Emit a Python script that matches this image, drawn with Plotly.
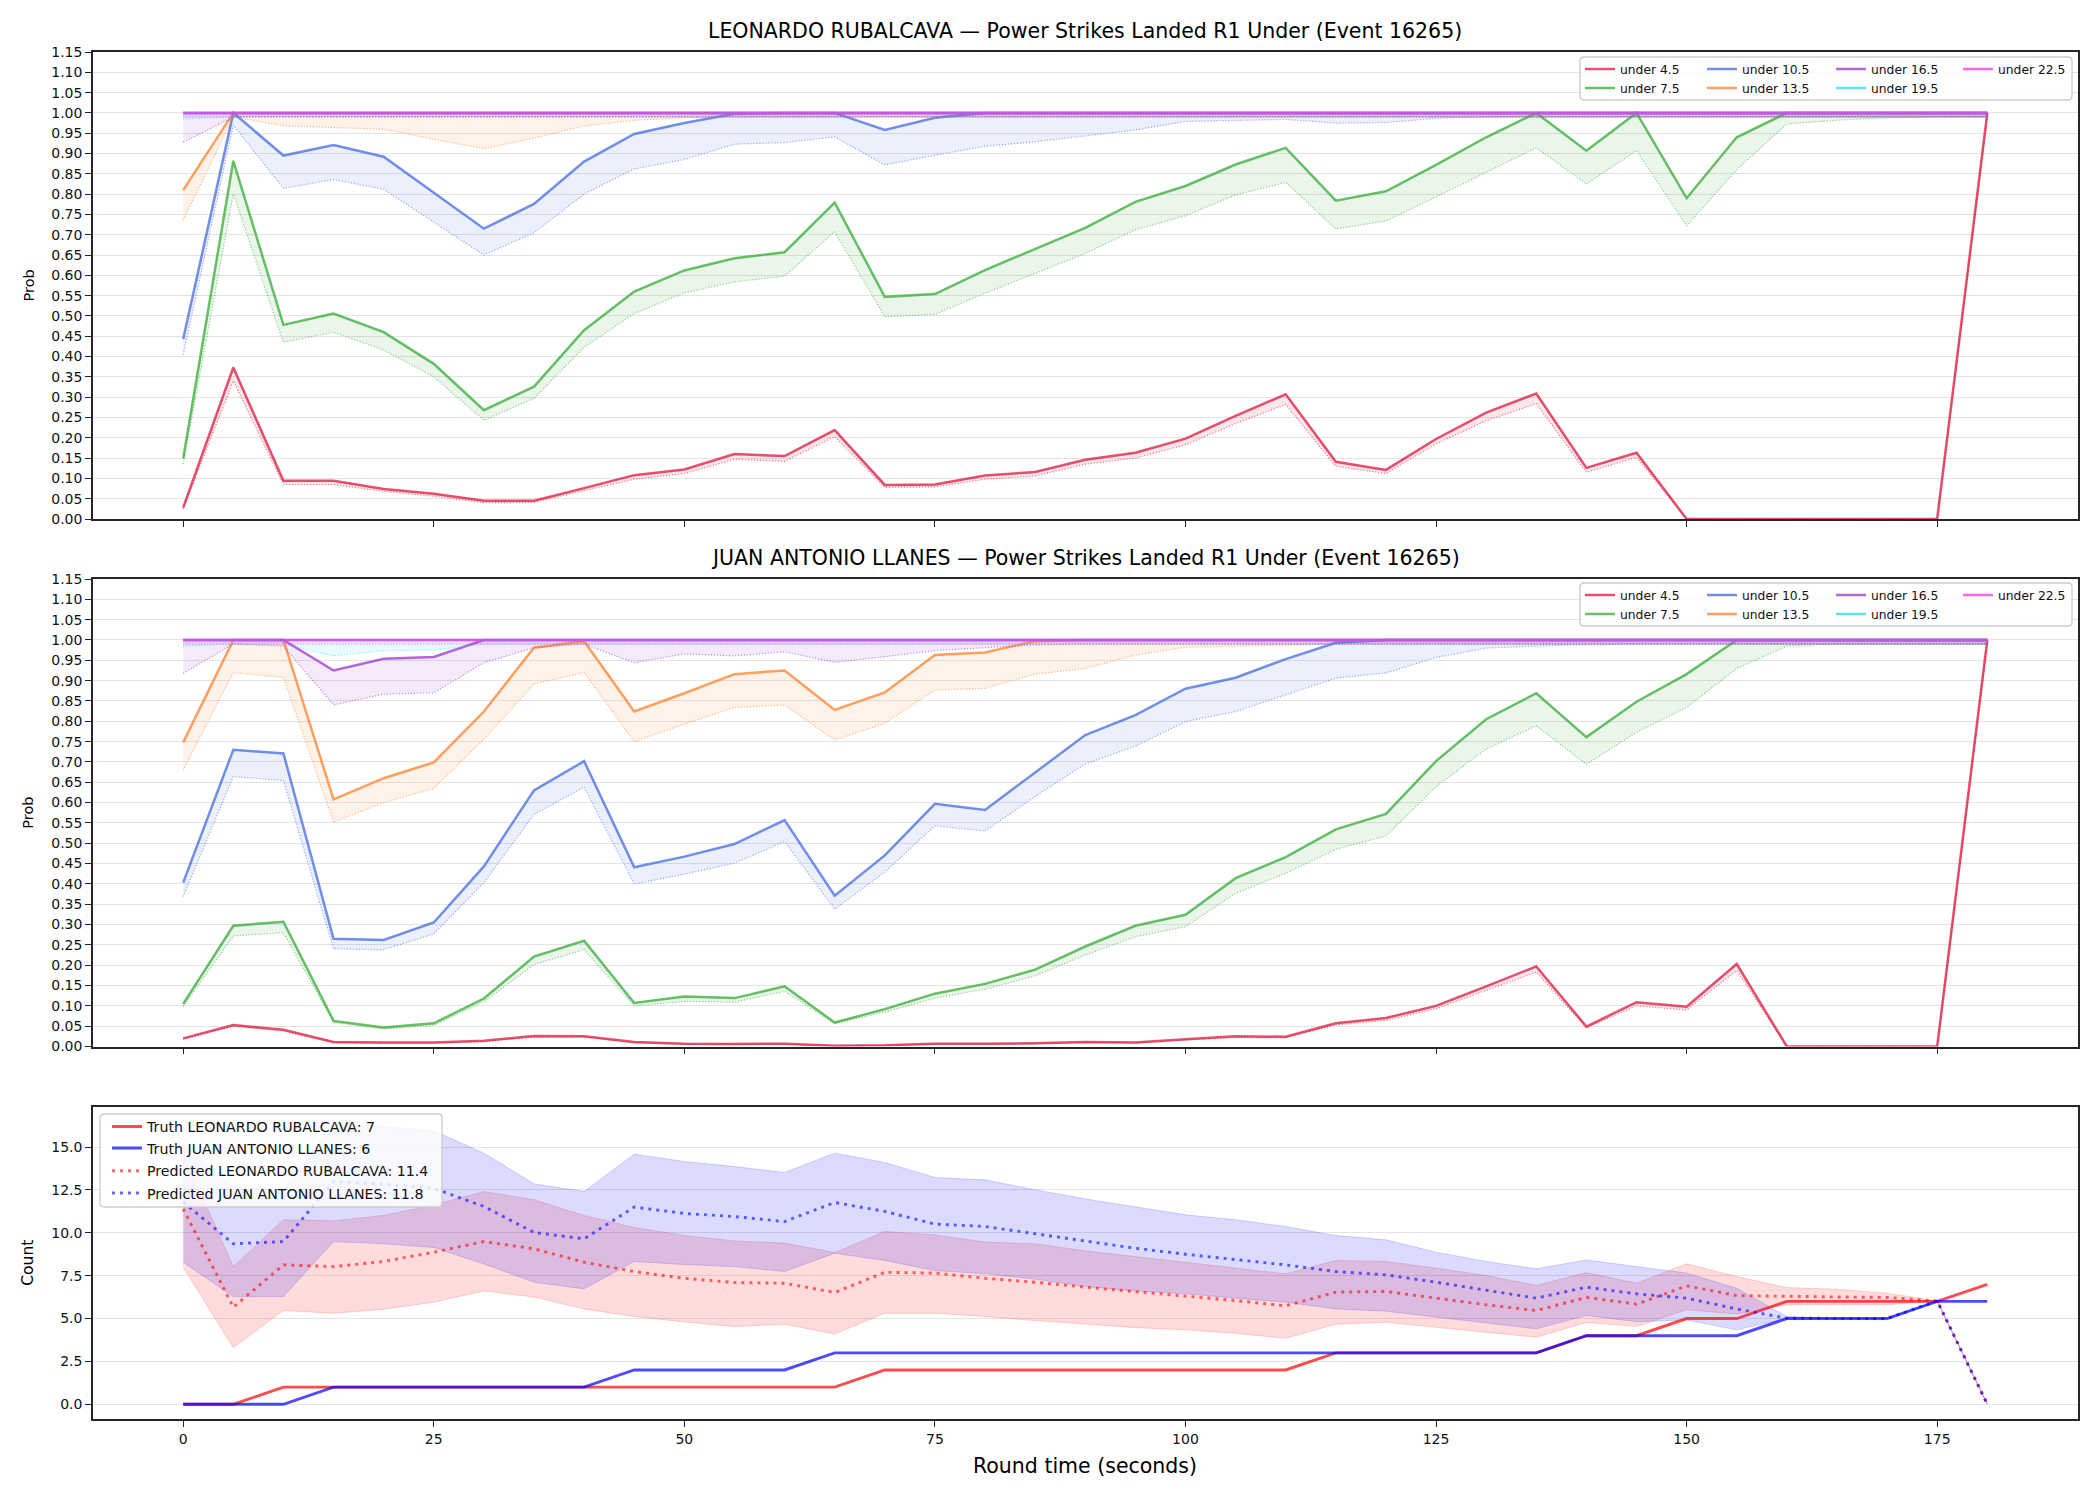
import plotly.graph_objects as go

# ---------------- data ----------------
TIME_S = [0, 5, 10, 15, 20, 25, 30, 35, 40, 45, 50, 55, 60, 65, 70, 75, 80, 85, 90,
          95, 100, 105, 110, 115, 120, 125, 130, 135, 140, 145, 150, 155, 160, 165,
          170, 175, 180]

THRESHOLDS = ["under 4.5", "under 7.5", "under 10.5", "under 13.5",
              "under 16.5", "under 19.5", "under 22.5"]

FIGHTERS = ["LEONARDO RUBALCAVA", "JUAN ANTONIO LLANES"]
EVENT_ID = 16265

X_TICKS = [0, 25, 50, 75, 100, 125, 150, 175]
PROB_TICKS = [0.00, 0.05, 0.10, 0.15, 0.20, 0.25, 0.30, 0.35, 0.40, 0.45, 0.50, 0.55,
              0.60, 0.65, 0.70, 0.75, 0.80, 0.85, 0.90, 0.95, 1.00, 1.05, 1.10, 1.15]
COUNT_TICKS = [0.0, 2.5, 5.0, 7.5, 10.0, 12.5, 15.0]

# LEONARDO RUBALCAVA - probability (solid) and lower curve (dotted)
leo_u45 = [0.028, 0.373, 0.094, 0.094, 0.074, 0.062, 0.045, 0.045, 0.076, 0.108, 0.122, 0.160,
           0.155, 0.219, 0.084, 0.085, 0.107, 0.116, 0.146, 0.163, 0.198, 0.254, 0.307, 0.141,
           0.121, 0.197, 0.262, 0.309, 0.126, 0.163, 0.0, 0.0, 0.0, 0.0, 0.0, 0.0, 1.0]
leo_u45_low = [0.025, 0.340, 0.085, 0.085, 0.068, 0.056, 0.040, 0.041, 0.070, 0.098, 0.112, 0.147,
               0.142, 0.203, 0.078, 0.079, 0.098, 0.106, 0.135, 0.150, 0.183, 0.235, 0.282, 0.130,
               0.112, 0.185, 0.242, 0.284, 0.115, 0.152, 0.0, 0.0, 0.0, 0.0, 0.0, 0.0, 0.990]
leo_u75 = [0.149, 0.882, 0.478, 0.506, 0.460, 0.382, 0.268, 0.326, 0.465, 0.560, 0.612, 0.642,
           0.657, 0.779, 0.547, 0.554, 0.613, 0.666, 0.717, 0.781, 0.820, 0.873, 0.914, 0.784,
           0.807, 0.872, 0.940, 1.0, 0.907, 1.0, 0.790, 0.940, 1.0, 1.0, 1.0, 1.0, 1.0]
leo_u75_low = [0.135, 0.800, 0.435, 0.460, 0.416, 0.350, 0.243, 0.297, 0.423, 0.506, 0.557, 0.584,
               0.598, 0.707, 0.498, 0.504, 0.556, 0.605, 0.654, 0.712, 0.747, 0.798, 0.829, 0.714,
               0.734, 0.793, 0.853, 0.914, 0.825, 0.907, 0.722, 0.860, 0.973, 0.982, 0.988, 0.990, 0.990]
leo_u105 = [0.443, 1.0, 0.895, 0.921, 0.892, 0.804, 0.715, 0.776, 0.880, 0.948, 0.975, 0.998,
            1.0, 1.0, 0.958, 0.988, 1.0, 1.0, 1.0, 1.0, 1.0, 1.0, 1.0, 1.0,
            1.0, 1.0, 1.0, 1.0, 1.0, 1.0, 1.0, 1.0, 1.0, 1.0, 1.0, 1.0, 1.0]
leo_u105_low = [0.405, 0.970, 0.814, 0.836, 0.812, 0.732, 0.650, 0.705, 0.800, 0.862, 0.885, 0.923,
                0.927, 0.941, 0.872, 0.896, 0.918, 0.929, 0.944, 0.958, 0.979, 0.981, 0.984, 0.975,
                0.976, 0.987, 0.990, 0.990, 0.990, 0.990, 0.990, 0.990, 0.990, 0.990, 0.990, 0.990, 0.990]
leo_u135 = [0.810, 1.0, 1.0, 1.0, 1.0, 1.0, 1.0, 1.0, 1.0, 1.0, 1.0, 1.0,
            1.0, 1.0, 1.0, 1.0, 1.0, 1.0, 1.0, 1.0, 1.0, 1.0, 1.0, 1.0,
            1.0, 1.0, 1.0, 1.0, 1.0, 1.0, 1.0, 1.0, 1.0, 1.0, 1.0, 1.0, 1.0]
leo_u135_low = [0.736, 0.990, 0.968, 0.964, 0.960, 0.935, 0.912, 0.938, 0.968, 0.982, 0.988, 0.990,
                0.990, 0.990, 0.990, 0.990, 0.990, 0.990, 0.990, 0.990, 0.990, 0.990, 0.990, 0.990,
                0.990, 0.990, 0.990, 0.990, 0.990, 0.990, 0.990, 0.990, 0.990, 0.990, 0.990, 0.990, 0.990]
leo_u165 = [1.0, 1.0, 1.0, 1.0, 1.0, 1.0, 1.0, 1.0, 1.0, 1.0, 1.0, 1.0,
            1.0, 1.0, 1.0, 1.0, 1.0, 1.0, 1.0, 1.0, 1.0, 1.0, 1.0, 1.0,
            1.0, 1.0, 1.0, 1.0, 1.0, 1.0, 1.0, 1.0, 1.0, 1.0, 1.0, 1.0, 1.0]
leo_u165_low = [0.928, 0.990, 0.990, 0.990, 0.990, 0.990, 0.990, 0.990, 0.990, 0.990, 0.990, 0.990,
                0.990, 0.990, 0.990, 0.990, 0.990, 0.990, 0.990, 0.990, 0.990, 0.990, 0.990, 0.990,
                0.990, 0.990, 0.990, 0.990, 0.990, 0.990, 0.990, 0.990, 0.990, 0.990, 0.990, 0.990, 0.990]
leo_u195 = [1.0, 1.0, 1.0, 1.0, 1.0, 1.0, 1.0, 1.0, 1.0, 1.0, 1.0, 1.0,
            1.0, 1.0, 1.0, 1.0, 1.0, 1.0, 1.0, 1.0, 1.0, 1.0, 1.0, 1.0,
            1.0, 1.0, 1.0, 1.0, 1.0, 1.0, 1.0, 1.0, 1.0, 1.0, 1.0, 1.0, 1.0]
leo_u195_low = [0.985, 0.990, 0.990, 0.990, 0.990, 0.990, 0.990, 0.990, 0.990, 0.990, 0.990, 0.990,
                0.990, 0.990, 0.990, 0.990, 0.990, 0.990, 0.990, 0.990, 0.990, 0.990, 0.990, 0.990,
                0.990, 0.990, 0.990, 0.990, 0.990, 0.990, 0.990, 0.990, 0.990, 0.990, 0.990, 0.990, 0.990]
leo_u225 = [1.0, 1.0, 1.0, 1.0, 1.0, 1.0, 1.0, 1.0, 1.0, 1.0, 1.0, 1.0,
            1.0, 1.0, 1.0, 1.0, 1.0, 1.0, 1.0, 1.0, 1.0, 1.0, 1.0, 1.0,
            1.0, 1.0, 1.0, 1.0, 1.0, 1.0, 1.0, 1.0, 1.0, 1.0, 1.0, 1.0, 1.0]
leo_u225_low = [0.990, 0.990, 0.990, 0.990, 0.990, 0.990, 0.990, 0.990, 0.990, 0.990, 0.990, 0.990,
                0.990, 0.990, 0.990, 0.990, 0.990, 0.990, 0.990, 0.990, 0.990, 0.990, 0.990, 0.990,
                0.990, 0.990, 0.990, 0.990, 0.990, 0.990, 0.990, 0.990, 0.990, 0.990, 0.990, 0.990, 0.990]

# JUAN ANTONIO LLANES
juan_u45 = [0.020, 0.053, 0.041, 0.011, 0.010, 0.010, 0.014, 0.026, 0.025, 0.011, 0.007, 0.006,
            0.007, 0.002, 0.003, 0.007, 0.007, 0.008, 0.011, 0.010, 0.018, 0.025, 0.024, 0.057,
            0.070, 0.100, 0.148, 0.197, 0.049, 0.109, 0.098, 0.203, 0.0, 0.0, 0.0, 0.0, 1.0]
juan_u45_low = [0.018, 0.050, 0.038, 0.009, 0.008, 0.008, 0.012, 0.023, 0.023, 0.009, 0.006, 0.005,
                0.006, 0.002, 0.003, 0.006, 0.006, 0.007, 0.010, 0.009, 0.016, 0.022, 0.022, 0.053,
                0.064, 0.093, 0.138, 0.183, 0.046, 0.100, 0.090, 0.187, 0.0, 0.0, 0.0, 0.0, 0.990]
juan_u75 = [0.105, 0.297, 0.307, 0.063, 0.047, 0.057, 0.118, 0.221, 0.260, 0.107, 0.123, 0.119,
            0.148, 0.059, 0.092, 0.130, 0.154, 0.189, 0.246, 0.297, 0.324, 0.414, 0.466, 0.534,
            0.572, 0.702, 0.805, 0.869, 0.761, 0.848, 0.916, 1.0, 1.0, 1.0, 1.0, 1.0, 1.0]
juan_u75_low = [0.098, 0.272, 0.280, 0.059, 0.043, 0.052, 0.110, 0.202, 0.238, 0.100, 0.111, 0.109,
                0.136, 0.056, 0.085, 0.119, 0.141, 0.174, 0.225, 0.270, 0.295, 0.377, 0.426, 0.485,
                0.518, 0.639, 0.732, 0.789, 0.694, 0.773, 0.834, 0.930, 0.985, 0.990, 0.990, 0.990, 0.990]
juan_u105 = [0.403, 0.730, 0.721, 0.265, 0.262, 0.305, 0.443, 0.630, 0.702, 0.441, 0.467, 0.498,
             0.557, 0.371, 0.470, 0.597, 0.582, 0.675, 0.766, 0.815, 0.880, 0.907, 0.953, 0.993,
             1.0, 1.0, 1.0, 1.0, 1.0, 1.0, 1.0, 1.0, 1.0, 1.0, 1.0, 1.0, 1.0]
juan_u105_low = [0.369, 0.664, 0.654, 0.240, 0.238, 0.277, 0.403, 0.571, 0.638, 0.400, 0.424, 0.451,
                 0.504, 0.338, 0.429, 0.543, 0.530, 0.615, 0.695, 0.739, 0.799, 0.824, 0.865, 0.906,
                 0.919, 0.957, 0.980, 0.985, 0.988, 0.990, 0.990, 0.990, 0.990, 0.990, 0.990, 0.990, 0.990]
juan_u135 = [0.748, 1.0, 1.0, 0.608, 0.660, 0.699, 0.824, 0.981, 0.997, 0.824, 0.869, 0.916,
             0.925, 0.828, 0.871, 0.963, 0.969, 0.997, 1.0, 1.0, 1.0, 1.0, 1.0, 1.0,
             1.0, 1.0, 1.0, 1.0, 1.0, 1.0, 1.0, 1.0, 1.0, 1.0, 1.0, 1.0, 1.0]
juan_u135_low = [0.680, 0.920, 0.908, 0.552, 0.600, 0.635, 0.756, 0.892, 0.920, 0.750, 0.793, 0.834,
                 0.840, 0.754, 0.795, 0.877, 0.881, 0.916, 0.930, 0.963, 0.982, 0.985, 0.987, 0.990,
                 0.990, 0.990, 0.990, 0.990, 0.990, 0.990, 0.990, 0.990, 0.990, 0.990, 0.990, 0.990, 0.990]
juan_u165 = [1.0, 1.0, 1.0, 0.925, 0.954, 0.958, 1.0, 1.0, 1.0, 1.0, 1.0, 1.0,
             1.0, 1.0, 1.0, 1.0, 1.0, 1.0, 1.0, 1.0, 1.0, 1.0, 1.0, 1.0,
             1.0, 1.0, 1.0, 1.0, 1.0, 1.0, 1.0, 1.0, 1.0, 1.0, 1.0, 1.0, 1.0]
juan_u165_low = [0.918, 0.990, 0.985, 0.840, 0.867, 0.870, 0.944, 0.981, 0.990, 0.944, 0.966, 0.961,
                 0.971, 0.945, 0.959, 0.974, 0.981, 0.988, 0.990, 0.990, 0.990, 0.990, 0.990, 0.990,
                 0.990, 0.990, 0.990, 0.990, 0.990, 0.990, 0.990, 0.990, 0.990, 0.990, 0.990, 0.990, 0.990]
juan_u195 = [1.0, 1.0, 1.0, 1.0, 1.0, 1.0, 1.0, 1.0, 1.0, 1.0, 1.0, 1.0,
             1.0, 1.0, 1.0, 1.0, 1.0, 1.0, 1.0, 1.0, 1.0, 1.0, 1.0, 1.0,
             1.0, 1.0, 1.0, 1.0, 1.0, 1.0, 1.0, 1.0, 1.0, 1.0, 1.0, 1.0, 1.0]
juan_u195_low = [0.985, 0.990, 0.990, 0.961, 0.974, 0.975, 0.990, 0.990, 0.990, 0.990, 0.990, 0.990,
                 0.990, 0.990, 0.990, 0.990, 0.990, 0.990, 0.990, 0.990, 0.990, 0.990, 0.990, 0.990,
                 0.990, 0.990, 0.990, 0.990, 0.990, 0.990, 0.990, 0.990, 0.990, 0.990, 0.990, 0.990, 0.990]
juan_u225 = [1.0, 1.0, 1.0, 1.0, 1.0, 1.0, 1.0, 1.0, 1.0, 1.0, 1.0, 1.0,
             1.0, 1.0, 1.0, 1.0, 1.0, 1.0, 1.0, 1.0, 1.0, 1.0, 1.0, 1.0,
             1.0, 1.0, 1.0, 1.0, 1.0, 1.0, 1.0, 1.0, 1.0, 1.0, 1.0, 1.0, 1.0]
juan_u225_low = [0.990, 0.990, 0.990, 0.990, 0.990, 0.990, 0.990, 0.990, 0.990, 0.990, 0.990, 0.990,
                 0.990, 0.990, 0.990, 0.990, 0.990, 0.990, 0.990, 0.990, 0.990, 0.990, 0.990, 0.990,
                 0.990, 0.990, 0.990, 0.990, 0.990, 0.990, 0.990, 0.990, 0.990, 0.990, 0.990, 0.990, 0.990]

# Count panel
truth_leo = [0, 0, 1, 1, 1, 1, 1, 1, 1, 1, 1, 1, 1, 1, 2, 2, 2, 2, 2, 2, 2, 2, 2, 3, 3, 3, 3, 3,
             4, 4, 5, 5, 6, 6, 6, 6, 7]
truth_juan = [0, 0, 0, 1, 1, 1, 1, 1, 1, 2, 2, 2, 2, 3, 3, 3, 3, 3, 3, 3, 3, 3, 3, 3, 3, 3, 3, 3,
              4, 4, 4, 4, 5, 5, 5, 6, 6]
pred_leo = [11.4, 5.66, 8.13, 8.03, 8.33, 8.87, 9.49, 9.07, 8.29, 7.74, 7.35, 7.10, 7.06, 6.52,
            7.70, 7.65, 7.35, 7.12, 6.83, 6.58, 6.34, 6.05, 5.74, 6.54, 6.58, 6.19, 5.80, 5.47,
            6.23, 5.84, 6.91, 6.34, 6.28, 6.26, 6.23, 6.03, 0.0]
pred_juan = [11.8, 9.36, 9.49, 13.0, 12.84, 12.60, 11.54, 10.02, 9.65, 11.50, 11.13, 10.95, 10.66,
             11.77, 11.25, 10.51, 10.37, 9.94, 9.49, 9.10, 8.75, 8.46, 8.13, 7.74, 7.55, 7.12, 6.67,
             6.19, 6.83, 6.44, 6.19, 5.56, 5.02, 5.0, 5.0, 6.03, 0.0]
band_leo_low = [8.0, 3.30, 5.47, 5.31, 5.54, 5.95, 6.61, 6.25, 5.56, 5.12, 4.80, 4.53, 4.67, 4.10,
                5.31, 5.31, 5.12, 4.88, 4.67, 4.47, 4.34, 4.14, 3.85, 4.67, 4.78, 4.49, 4.20, 3.91,
                4.77, 4.53, 5.51, 5.27, 5.80, 5.80, 5.80, 6.03, 0.0]
band_leo_high = [14.6, 8.03, 10.76, 10.70, 11.01, 11.63, 12.41, 11.93, 11.01, 10.31, 9.85, 9.53,
                 9.40, 8.85, 10.08, 9.88, 9.46, 9.36, 8.95, 8.62, 8.27, 7.98, 7.61, 8.39, 8.33, 7.94,
                 7.51, 6.93, 7.68, 7.06, 8.19, 7.45, 6.81, 6.71, 6.48, 6.03, 0.0]
band_juan_low = [8.29, 6.28, 6.28, 9.49, 9.36, 9.14, 8.19, 7.12, 6.73, 8.33, 8.15, 8.03, 7.74, 8.81,
                 8.39, 7.80, 7.61, 7.30, 6.87, 6.61, 6.44, 6.19, 5.95, 5.56, 5.43, 5.06, 4.73, 4.40,
                 5.18, 4.82, 4.92, 4.34, 5.02, 5.0, 5.0, 6.03, 0.0]
band_juan_high = [15.0, 12.7, 12.5, 16.4, 16.2, 15.95, 14.65, 12.86, 12.41, 14.59, 14.16, 13.87,
                  13.52, 14.65, 14.10, 13.23, 13.09, 12.51, 11.98, 11.50, 11.05, 10.76, 10.37, 9.84,
                  9.59, 8.87, 8.33, 7.90, 8.42, 8.03, 7.65, 6.77, 5.12, 5.0, 5.0, 6.03, 0.0]

LEO_SOLID = [leo_u45, leo_u75, leo_u105, leo_u135, leo_u165, leo_u195, leo_u225]
LEO_LOW = [leo_u45_low, leo_u75_low, leo_u105_low, leo_u135_low, leo_u165_low, leo_u195_low, leo_u225_low]
JUAN_SOLID = [juan_u45, juan_u75, juan_u105, juan_u135, juan_u165, juan_u195, juan_u225]
JUAN_LOW = [juan_u45_low, juan_u75_low, juan_u105_low, juan_u135_low, juan_u165_low, juan_u195_low, juan_u225_low]

for arr in LEO_SOLID + LEO_LOW + JUAN_SOLID + JUAN_LOW + [truth_leo, truth_juan, pred_leo, pred_juan,
                                                           band_leo_low, band_leo_high, band_juan_low, band_juan_high]:
    assert len(arr) == len(TIME_S), len(arr)

# ---------------- styles ----------------
W, H = 2100, 1500
FONT = "DejaVu Sans"
LINE_RGB = [(220, 20, 60), (50, 170, 50), (65, 105, 225), (255, 127, 40),
            (153, 50, 204), (40, 215, 245), (245, 50, 230)]
SPINE = "#262626"
GRID = "#e4e4e4"


def px(x):
    return x / W


def py(y):
    return 1 - y / H


X_DOM = [px(93), px(2077.5)]
PANELS_PX = [(52, 519), (579, 1046.5), (1106.5, 1419)]

fig = go.Figure()


def rgba(c, a):
    return f"rgba({c[0]},{c[1]},{c[2]},{a})"


def add_prob_panel(xa, ya, solids, lows, legend_ids):
    back = TIME_S[::-1]
    for k in range(len(THRESHOLDS)):
        fig.add_trace(go.Scatter(x=TIME_S + back, y=solids[k] + lows[k][::-1], mode="lines",
                                 fill="toself", fillcolor=rgba(LINE_RGB[k], 0.10),
                                 line=dict(width=0), xaxis=xa, yaxis=ya,
                                 showlegend=False, hoverinfo="skip"))
    for k in range(len(THRESHOLDS)):
        fig.add_trace(go.Scatter(x=TIME_S, y=lows[k], mode="lines",
                                 line=dict(color=rgba(LINE_RGB[k], 0.55), width=1.2, dash="1.2px,1.8px"),
                                 xaxis=xa, yaxis=ya, showlegend=False))
        fig.add_trace(go.Scatter(x=TIME_S, y=solids[k], mode="lines", name=THRESHOLDS[k],
                                 line=dict(color=rgba(LINE_RGB[k], 0.74), width=2.5),
                                 xaxis=xa, yaxis=ya, legend=legend_ids[k]))


leg_names_1 = ["legend"] + [f"legend{i}" for i in range(2, 8)]
leg_names_2 = [f"legend{i}" for i in range(8, 15)]
leg_names_3 = [f"legend{i}" for i in range(15, 19)]

add_prob_panel("x", "y", LEO_SOLID, LEO_LOW, leg_names_1)
add_prob_panel("x2", "y2", JUAN_SOLID, JUAN_LOW, leg_names_2)

# count panel
RED = (255, 0, 0)
BLUE = (0, 0, 255)
for lo, hi, c in [(band_leo_low, band_leo_high, RED), (band_juan_low, band_juan_high, BLUE)]:
    fig.add_trace(go.Scatter(x=TIME_S + TIME_S[::-1], y=hi + lo[::-1], mode="lines", fill="toself",
                             fillcolor=rgba(c, 0.14), line=dict(width=1, color=rgba(c, 0.16)),
                             xaxis="x3", yaxis="y3", showlegend=False, hoverinfo="skip"))
fig.add_trace(go.Scatter(x=TIME_S, y=truth_leo, mode="lines",
                         name=f"Truth {FIGHTERS[0]}: {truth_leo[-1]}",
                         line=dict(color=rgba(RED, 0.7), width=2.9), xaxis="x3", yaxis="y3",
                         legend=leg_names_3[0]))
fig.add_trace(go.Scatter(x=TIME_S, y=truth_juan, mode="lines",
                         name=f"Truth {FIGHTERS[1]}: {truth_juan[-1]}",
                         line=dict(color=rgba(BLUE, 0.7), width=2.9), xaxis="x3", yaxis="y3",
                         legend=leg_names_3[1]))
fig.add_trace(go.Scatter(x=TIME_S, y=pred_leo, mode="lines",
                         name=f"Predicted {FIGHTERS[0]}: {pred_leo[0]:.1f}",
                         line=dict(color=rgba(RED, 0.6), width=2.9, dash="3px,5px"),
                         xaxis="x3", yaxis="y3", legend=leg_names_3[2]))
fig.add_trace(go.Scatter(x=TIME_S, y=pred_juan, mode="lines",
                         name=f"Predicted {FIGHTERS[1]}: {pred_juan[0]:.1f}",
                         line=dict(color=rgba(BLUE, 0.6), width=2.9, dash="3px,5px"),
                         xaxis="x3", yaxis="y3", legend=leg_names_3[3]))

# ---------------- axes ----------------
common_x = dict(range=[-9, 189], tickmode="array", tickvals=X_TICKS, ticks="outside", ticklen=6,
                tickwidth=1.2, tickcolor=SPINE, showline=True, mirror=True, linecolor=SPINE,
                linewidth=1.6, showgrid=False, zeroline=False, domain=X_DOM, automargin=False,
                tickfont=dict(family=FONT, size=14, color="#111"))
common_y = dict(ticks="outside", ticklen=6, tickwidth=1.2, tickcolor=SPINE, showline=True,
                mirror=True, linecolor=SPINE, linewidth=1.6, showgrid=True, gridcolor=GRID,
                gridwidth=1, zeroline=False, automargin=False,
                tickfont=dict(family=FONT, size=14, color="#111"))

layout_axes = {}
for i, (top, bot) in enumerate(PANELS_PX):
    n = "" if i == 0 else str(i + 1)
    xa = dict(common_x, anchor="y" + n, showticklabels=(i == 2))
    ya = dict(common_y, anchor="x" + n, domain=[py(bot), py(top)])
    if i < 2:
        ya.update(range=[0, 1.15], tickmode="array", tickvals=PROB_TICKS,
                  ticktext=[f"{v:.2f}" for v in PROB_TICKS])
    else:
        ya.update(range=[-0.86, 17.37], tickmode="array", tickvals=COUNT_TICKS,
                  ticktext=[f"{v:.1f}" for v in COUNT_TICKS])
    layout_axes["xaxis" + n] = xa
    layout_axes["yaxis" + n] = ya

fig.update_layout(**layout_axes)

# ---------------- legends ----------------
def leg(x_left, y_center, size):
    return dict(x=px(x_left), y=py(y_center), xanchor="left", yanchor="middle",
                bgcolor="rgba(0,0,0,0)", borderwidth=0, itemwidth=30, tracegroupgap=0,
                font=dict(family=FONT, size=size, color="#111"))

COL_LEFT = [1580, 1702, 1831, 1958]
legend_layout = {}
for p, (names, row_y) in enumerate([(leg_names_1, [69, 88]), (leg_names_2, [595, 614])]):
    for k, nm in enumerate(names):
        legend_layout[nm] = leg(COL_LEFT[k // 2], row_y[k % 2], 12.3)
for k, nm in enumerate(leg_names_3):
    legend_layout[nm] = leg(107, [1126.7, 1148.3, 1171, 1193.3][k], 14.2)
fig.update_layout(**legend_layout)


def rounded_rect(x0, y0, x1, y1, r=4):
    pts = [("M", x0 + r, y0), ("L", x1 - r, y0), ("Q", x1, y0, x1, y0 + r), ("L", x1, y1 - r),
           ("Q", x1, y1, x1 - r, y1), ("L", x0 + r, y1), ("Q", x0, y1, x0, y1 - r),
           ("L", x0, y0 + r), ("Q", x0, y0, x0 + r, y0)]
    s = ""
    for p in pts:
        cmd = p[0]
        coords = p[1:]
        pairs = [f"{px(coords[j]):.5f},{py(coords[j + 1]):.5f}" for j in range(0, len(coords), 2)]
        s += cmd + " ".join(pairs) + " "
    return s + "Z"


shapes = []
for (x0, y0, x1, y1) in [(1580, 57, 2072, 100), (1580, 583, 2072, 626), (100, 1114, 442, 1207)]:
    shapes.append(dict(type="path", path=rounded_rect(x0, y0, x1, y1), xref="paper", yref="paper",
                       line=dict(color="rgb(204,204,204)", width=1.3),
                       fillcolor="rgba(255,255,255,0.8)", layer="above"))

# ---------------- annotations ----------------
annotations = []
for i, title_y in enumerate([31, 558]):
    annotations.append(dict(text=f"{FIGHTERS[i]} — Power Strikes Landed R1 Under (Event {EVENT_ID})",
                            x=(X_DOM[0] + X_DOM[1]) / 2, y=py(title_y), xref="paper", yref="paper",
                            showarrow=False, xanchor="center", yanchor="middle",
                            font=dict(family=FONT, size=20.5, color="#000")))
for label, (top, bot), size in [("Prob", PANELS_PX[0], 14.5), ("Prob", PANELS_PX[1], 14.5),
                                ("Count", PANELS_PX[2], 15.5)]:
    annotations.append(dict(text=label, x=px(28), y=py((top + bot) / 2), xref="paper", yref="paper",
                            showarrow=False, textangle=-90, xanchor="center", yanchor="middle",
                            font=dict(family=FONT, size=size, color="#000")))
annotations.append(dict(text="Round time (seconds)", x=(X_DOM[0] + X_DOM[1]) / 2, y=py(1466),
                        xref="paper", yref="paper", showarrow=False, xanchor="center",
                        yanchor="middle", font=dict(family=FONT, size=20.5, color="#000")))

fig.update_layout(width=W, height=H, margin=dict(l=0, r=0, t=0, b=0, pad=0, autoexpand=False),
                  paper_bgcolor="white", plot_bgcolor="white",
                  shapes=shapes, annotations=annotations, showlegend=True,
                  font=dict(family=FONT, color="#111"))

fig.write_html("out.html")
